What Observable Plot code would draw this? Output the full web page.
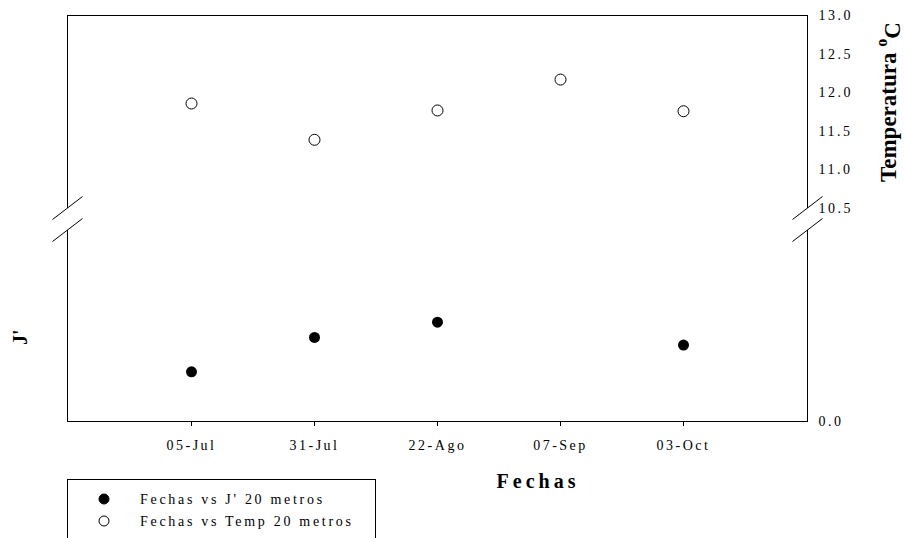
<!DOCTYPE html>
<html>
<head>
<meta charset="utf-8">
<script src="https://cdn.jsdelivr.net/npm/d3@7"></script>
<script src="https://cdn.jsdelivr.net/npm/@observablehq/plot@0.6"></script>
<style>
  html, body { margin: 0; padding: 0; background: #fff; overflow: hidden; }
  #chart { position: relative; width: 904px; height: 538px; }
  #chart svg { position: absolute; left: 0; top: 0; }
</style>
</head>
<body>
<div id="chart"></div>
<script>
// Sampling dates at 20 m depth
const fechas = ["05-Jul", "31-Jul", "22-Ago", "07-Sep", "03-Oct"];
// Water temperature (°C) at 20 m
const temp20 = [11.86, 11.39, 11.77, 12.17, 11.76];
// Pielou evenness J' at 20 m (no value on 07-Sep)
const fechasJ = ["05-Jul", "31-Jul", "22-Ago", "03-Oct"];
const jPrima20 = [0.26, 0.44, 0.52, 0.40];
// Right-hand temperature axis ticks
const tempTicks = [0, 10.5, 11, 11.5, 12, 12.5, 13];
const legendLabels = ["Fechas vs J' 20 metros", "Fechas vs Temp 20 metros"];
const legendFills = ["#000", "#fff"];

const W = 904, H = 538;
const M = {top: 15, right: 97, bottom: 117, left: 67};
// Vertical extent of the axis break (pixels)
const breakTop = 208, breakBottom = 230;
const serif = "'Liberation Serif', 'Times New Roman', serif";

const tempData = fechas.map((f, i) => ({fecha: f, temp: temp20[i]}));
const jData = fechasJ.map((f, i) => ({fecha: f, j: jPrima20[i]}));

const xScale = {type: "point", domain: fechas, padding: 1};

// Temperature panel: broken linear scale, axis on the right
const plotT = Plot.plot({
  width: W, height: H,
  marginTop: M.top, marginRight: M.right, marginBottom: M.bottom, marginLeft: M.left,
  style: {fontFamily: serif, fontSize: "14px", color: "#000", background: "#fff", letterSpacing: "2.5px"},
  x: {...xScale, tickSize: 5, tickPadding: 14, label: null},
  y: {
    type: "linear",
    domain: [0, 10.5, 13],
    range: [H - M.bottom, breakTop, M.top],
    ticks: tempTicks,
    tickFormat: d3.format(".1f"),
    tickSize: 0,
    tickPadding: 11,
    axis: "right",
    label: null
  },
  marks: [
    Plot.frame({stroke: "#000"}),
    Plot.dot(tempData, {x: "fecha", y: "temp", r: 5.5, fill: "#fff", stroke: "#000", strokeWidth: 1})
  ]
});

// J' panel: shares the x scale, occupies the region below the break
const plotJ = Plot.plot({
  width: W, height: H,
  marginTop: breakBottom, marginRight: M.right, marginBottom: M.bottom, marginLeft: M.left,
  style: {background: "transparent"},
  x: {...xScale, axis: null},
  y: {domain: [0, 1], axis: null},
  marks: [
    Plot.dot(jData, {x: "fecha", y: "j", r: 5.5, fill: "#000"})
  ]
});

const chart = document.getElementById("chart");
chart.appendChild(plotT);
chart.appendChild(plotJ);

const svg = d3.select(plotT);

// Axis break on both vertical edges of the frame
const edges = [M.left + 0.5, W - M.right + 0.5];
const brk = svg.append("g");
edges.forEach(ex => {
  brk.append("rect")
    .attr("x", ex - 2).attr("y", breakTop)
    .attr("width", 4).attr("height", breakBottom - breakTop)
    .attr("fill", "#fff");
  [breakTop, breakBottom].forEach(yy => {
    brk.append("line")
      .attr("x1", ex - 15).attr("y1", yy + 11.5)
      .attr("x2", ex + 15).attr("y2", yy - 11.5)
      .attr("stroke", "#000").attr("stroke-width", 1);
  });
});

// Axis titles
svg.append("text")
  .attr("x", 538).attr("y", 488)
  .attr("text-anchor", "middle")
  .style("font-weight", "bold").style("font-size", "20px").style("letter-spacing", "4px")
  .text("Fechas");

svg.append("text")
  .attr("transform", "translate(27,345) rotate(-90)")
  .attr("text-anchor", "start")
  .style("font-weight", "bold").style("font-size", "20px").style("letter-spacing", "0px")
  .text("J'");

const tt = svg.append("text")
  .attr("transform", "translate(896,182) rotate(-90)")
  .attr("text-anchor", "start")
  .style("font-weight", "bold").style("font-size", "23px").style("letter-spacing", "0px");
tt.append("tspan").text("Temperatura ");
tt.append("tspan").attr("dy", "-0.55em").style("font-size", "16px").text("o");
tt.append("tspan").attr("dy", "0.55em").text("C");

// Legend box (runs past the bottom edge)
const leg = svg.append("g").style("letter-spacing", "2.7px").attr("text-anchor", "start");
leg.append("rect")
  .attr("x", 67.5).attr("y", 479.5)
  .attr("width", 308).attr("height", 90)
  .attr("fill", "none").attr("stroke", "#000");
legendLabels.forEach((lab, i) => {
  const cy = 499 + i * 22;
  leg.append("circle")
    .attr("cx", 104).attr("cy", cy).attr("r", 5)
    .attr("fill", legendFills[i]).attr("stroke", "#000");
  leg.append("text")
    .attr("x", 140).attr("y", cy + 5)
    .attr("text-anchor", "start")
    .text(lab);
});
</script>
</body>
</html>
